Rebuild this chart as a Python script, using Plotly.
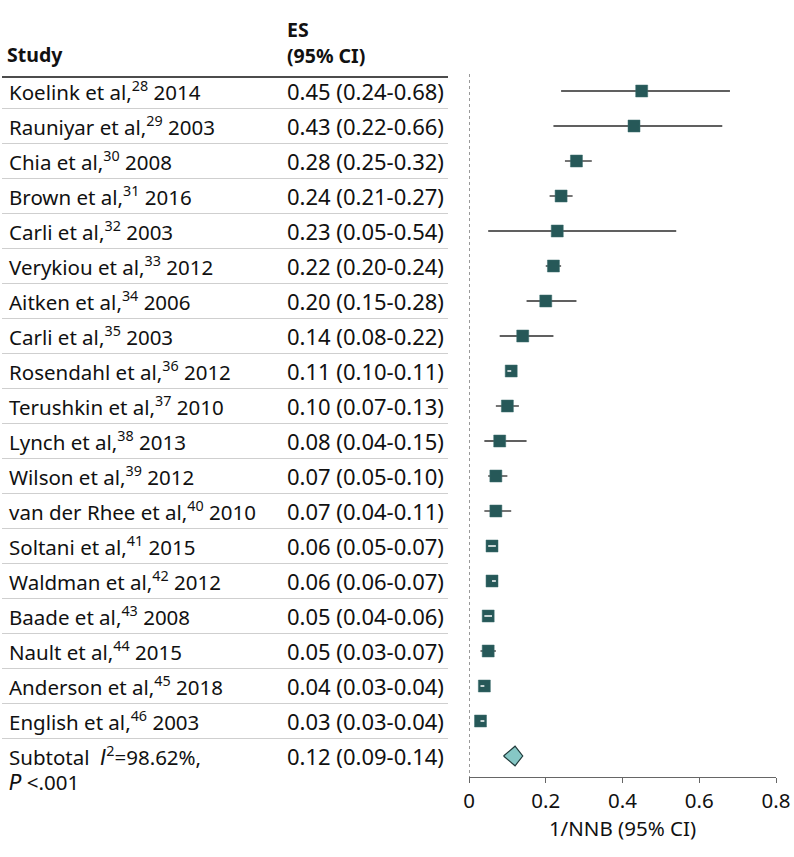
import plotly.graph_objects as go

studies = ["Koelink et al,<sup>28</sup> 2014", "Rauniyar et al,<sup>29</sup> 2003", "Chia et al,<sup>30</sup> 2008",
           "Brown et al,<sup>31</sup> 2016", "Carli et al,<sup>32</sup> 2003", "Verykiou et al,<sup>33</sup> 2012",
           "Aitken et al,<sup>34</sup> 2006", "Carli et al,<sup>35</sup> 2003", "Rosendahl et al,<sup>36</sup> 2012",
           "Terushkin et al,<sup>37</sup> 2010", "Lynch et al,<sup>38</sup> 2013", "Wilson et al,<sup>39</sup> 2012",
           "van der Rhee et al,<sup>40</sup> 2010", "Soltani et al,<sup>41</sup> 2015", "Waldman et al,<sup>42</sup> 2012",
           "Baade et al,<sup>43</sup> 2008", "Nault et al,<sup>44</sup> 2015", "Anderson et al,<sup>45</sup> 2018",
           "English et al,<sup>46</sup> 2003"]
es = [0.45, 0.43, 0.28, 0.24, 0.23, 0.22, 0.20, 0.14, 0.11, 0.10, 0.08, 0.07, 0.07, 0.06, 0.06, 0.05, 0.05, 0.04, 0.03]
lo = [0.24, 0.22, 0.25, 0.21, 0.05, 0.20, 0.15, 0.08, 0.10, 0.07, 0.04, 0.05, 0.04, 0.05, 0.06, 0.04, 0.03, 0.03, 0.03]
hi = [0.68, 0.66, 0.32, 0.27, 0.54, 0.24, 0.28, 0.22, 0.11, 0.13, 0.15, 0.10, 0.11, 0.07, 0.07, 0.06, 0.07, 0.04, 0.04]
sub_es, sub_lo, sub_hi = 0.12, 0.09, 0.14
IT = '<span style="font-family:DejaVu Sans"><i>{}</i></span>'
sub_label = "Subtotal  " + IT.format("I") + "<sup>2</sup>=98.62%,"
sub_label2 = IT.format("P") + " <.001"
xticks = [0, 0.2, 0.4, 0.6, 0.8]
xtick_labels = ["0", "0.2", "0.4", "0.6", "0.8"]

W, H = 794, 857
FONT = "Noto Sans"
FS = 20.5
FS_ES = 22
FS_HEAD = 19.5
DARK = "#265858"
TXT = "#111"
n = len(studies)
ys = [-i for i in range(n)]
sub_y = -n

# plot geometry (px)
x0px, x1px = 469, 776
ytop_px, ybot_px = 74, 777
row0_px, row_h = 91, 35
ytop_val = -(ytop_px - row0_px) / row_h
ybot_val = -(ybot_px - row0_px) / row_h
px_per_unit = (x1px - x0px) / 0.8
box = 12

fig = go.Figure()

# CI lines
cx, cy = [], []
for l, h, y in zip(lo, hi, ys):
    cx += [l, h, None]
    cy += [y, y, None]
fig.add_trace(go.Scatter(x=cx, y=cy, mode="lines", line=dict(color="#2b2b2b", width=1.3),
                         hoverinfo="skip", showlegend=False))
# squares
fig.add_trace(go.Scatter(x=es, y=ys, mode="markers",
                         marker=dict(symbol="square", size=box, color=DARK, line=dict(width=0.5, color="#3d6e6e")),
                         showlegend=False))
# white dashes for CIs narrower than the box
wx, wy = [], []
for l, h, y in zip(lo, hi, ys):
    if (h - l) * px_per_unit < box:
        wx += [l, h, None]
        wy += [y, y, None]
fig.add_trace(go.Scatter(x=wx, y=wy, mode="lines", line=dict(color="white", width=1.5),
                         hoverinfo="skip", showlegend=False))
# diamond
dh = 0.28
fig.add_trace(go.Scatter(x=[sub_lo, sub_es, sub_hi, sub_es, sub_lo],
                         y=[sub_y, sub_y + dh, sub_y, sub_y - dh, sub_y],
                         mode="lines", fill="toself", fillcolor="#86c7c5",
                         line=dict(color="#1f3a3a", width=1.2), showlegend=False))

# dotted null line
fig.add_shape(type="line", xref="x", yref="y", x0=0, x1=0, y0=ytop_val, y1=ybot_val,
              line=dict(color="#555", width=1.2, dash="dot"))

def font(size=FS):
    return dict(size=size, family=FONT, color=TXT)

ann = []
tx_study = 7 / W
tx_es = 285 / W
line_end = 448 / W
for i, (s, e, l, h) in enumerate(zip(studies, es, lo, hi)):
    y = ys[i]
    ann.append(dict(x=tx_study, y=y, xref="paper", yref="y", text=s, showarrow=False,
                    xanchor="left", yanchor="middle", font=font()))
    ann.append(dict(x=tx_es, y=y, xref="paper", yref="y", text=f"{e:.2f} ({l:.2f}-{h:.2f})", showarrow=False,
                    xanchor="left", yanchor="middle", font=font(FS_ES)))
    fig.add_shape(type="line", xref="paper", yref="y", x0=2 / W, x1=line_end, y0=y - 0.5, y1=y - 0.5,
                  line=dict(color="#cfcfcf", width=1))
ann.append(dict(x=tx_study, y=sub_y, xref="paper", yref="y", text=sub_label, showarrow=False,
                xanchor="left", yanchor="middle", font=font()))
ann.append(dict(x=tx_study, y=1 - 782 / H, xref="paper", yref="paper", text=sub_label2, showarrow=False,
                xanchor="left", yanchor="middle", font=font()))
ann.append(dict(x=tx_es, y=sub_y, xref="paper", yref="y",
                text=f"{sub_es:.2f} ({sub_lo:.2f}-{sub_hi:.2f})", showarrow=False,
                xanchor="left", yanchor="middle", font=font(FS_ES)))
# headers
ann.append(dict(x=tx_study - 2 / W, y=1 - 54 / H, xref="paper", yref="paper", text="<b>Study</b>", showarrow=False,
                xanchor="left", yanchor="middle", font=font(FS_HEAD)))
ann.append(dict(x=tx_es, y=1 - 29 / H, xref="paper", yref="paper", text="<b>ES</b>", showarrow=False,
                xanchor="left", yanchor="middle", font=font(FS_HEAD)))
ann.append(dict(x=tx_es, y=1 - 56 / H, xref="paper", yref="paper", text="<b>(95% CI)</b>", showarrow=False,
                xanchor="left", yanchor="middle", font=font(FS_HEAD)))
fig.add_shape(type="line", xref="paper", yref="paper", x0=2 / W, x1=line_end, y0=1 - 77 / H, y1=1 - 77 / H,
              line=dict(color="#111", width=1.6))

fig.update_layout(
    width=W, height=H, margin=dict(l=0, r=0, t=0, b=0, pad=0, autoexpand=False),
    plot_bgcolor="white", paper_bgcolor="white",
    annotations=ann, showlegend=False,
    xaxis=dict(domain=[x0px / W, x1px / W], range=[0, 0.8], tickvals=xticks, ticktext=xtick_labels,
               automargin=False,
               showgrid=False, zeroline=False, showline=True, linecolor="#666", linewidth=1.3,
               ticks="outside", ticklen=5, tickcolor="#666", tickwidth=1.3,
               tickfont=font(),
               title=dict(text="1/NNB (95% CI)", font=font(), standoff=0)),
    yaxis=dict(domain=[1 - ybot_px / H, 1 - ytop_px / H], range=[ybot_val, ytop_val], automargin=False,
               showgrid=False, zeroline=False, showline=False, showticklabels=False, ticks=""),
)

fig.write_html("out.html", config={"responsive": False, "displayModeBar": False},
               post_script=("document.documentElement.style.overflow='hidden';"
                            "document.documentElement.style.margin='0';"
                            "document.body.style.margin='0';document.body.style.padding='0';"
                            "document.body.style.overflow='hidden';"))
